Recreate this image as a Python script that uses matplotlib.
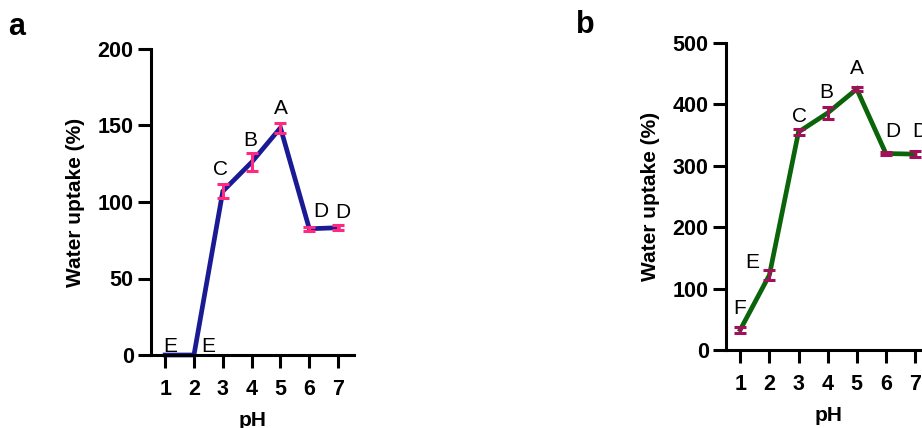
import matplotlib as mpl
from matplotlib import pyplot as plt

mpl.rcParams['font.family'] = ['Liberation Sans', 'DejaVu Sans']

ph = [1, 2, 3, 4, 5, 6, 7]

# panel a
uptake_a = [0, 0, 107, 126, 148.5, 82.5, 83.2]
err_a = [0, 0, 4.5, 6, 3.3, 1.4, 1.5]
letters_a = ['E', 'E', 'C', 'B', 'A', 'D', 'D']

# panel b
uptake_b = [33, 122, 355, 386, 425, 320, 319]
err_b = [5, 8, 5, 9, 3, 3, 5]
letters_b = ['F', 'E', 'C', 'B', 'A', 'D', 'D']

W, H = 922, 428
fig = plt.figure(figsize=(W / 100, H / 100), dpi=100)


def px_axes(x0, y_top, x1, y_bot):
    return fig.add_axes([x0 / W, 1 - y_bot / H, (x1 - x0) / W, (y_bot - y_top) / H])


def draw(ax, y, err, letters, line_col, err_col, ymax, step, offsets):
    ax.plot(ph, y, color=line_col, lw=3.4, solid_joinstyle='miter', zorder=2, clip_on=False)
    # no visible bar where the error is zero
    keep = [i for i, e in enumerate(err) if e > 0]
    ax.errorbar([ph[i] for i in keep], [y[i] for i in keep], yerr=[err[i] for i in keep],
                fmt='none', ecolor=err_col, elinewidth=2.2,
                capsize=4, capthick=2.2, zorder=3, clip_on=False)
    for x, v, e, lab, (dx, dy) in zip(ph, y, err, letters, offsets):
        ax.annotate(lab, (x, v + e), xytext=(dx, dy), textcoords='offset points',
                    ha='center', va='baseline', fontsize=15)
    ax.set_xlim(0.51, 7.55)
    ax.set_ylim(0, ymax)
    ax.set_xticks(ph)
    ax.set_yticks(range(0, ymax + 1, step))
    for s in ['top', 'right']:
        ax.spines[s].set_visible(False)
    for s in ['left', 'bottom']:
        ax.spines[s].set_linewidth(2.2)
    ax.tick_params(width=2.2, length=9.5, labelsize=15.5)
    ax.tick_params(axis='x', pad=8)
    ax.tick_params(axis='y', pad=3)
    for t in ax.get_xticklabels() + ax.get_yticklabels():
        t.set_fontweight('bold')
    ax.set_xlabel('pH', fontsize=15, fontweight='bold', labelpad=8)
    ax.set_ylabel('Water uptake (%)', fontsize=15, fontweight='bold', labelpad=9)


ax1 = px_axes(151, 49, 354, 355)
draw(ax1, uptake_a, err_a, letters_a, '#1a1a94', '#ff2a80', 200, 50,
     [(3.6, 2), (10, 2), (-2, 7), (-1, 5), (0, 6.5), (8.6, 7), (3.2, 5)])

ax2 = px_axes(726, 43, 931, 350)
draw(ax2, uptake_b, err_b, letters_b, '#0a640a', '#a3105a', 500, 100,
     [(-0.7, 9.4), (-12, 1.5), (0.7, 5), (-0.7, 6.5), (0, 9.4), (4.7, 10.8), (3.6, 10)])

fig.text(17 / W, 1 - 27 / H, 'a', fontsize=22, fontweight='bold', va='center', ha='center')
fig.text(585 / W, 1 - 25 / H, 'b', fontsize=22, fontweight='bold', va='center', ha='center')

fig.savefig('out.png', dpi=100)
